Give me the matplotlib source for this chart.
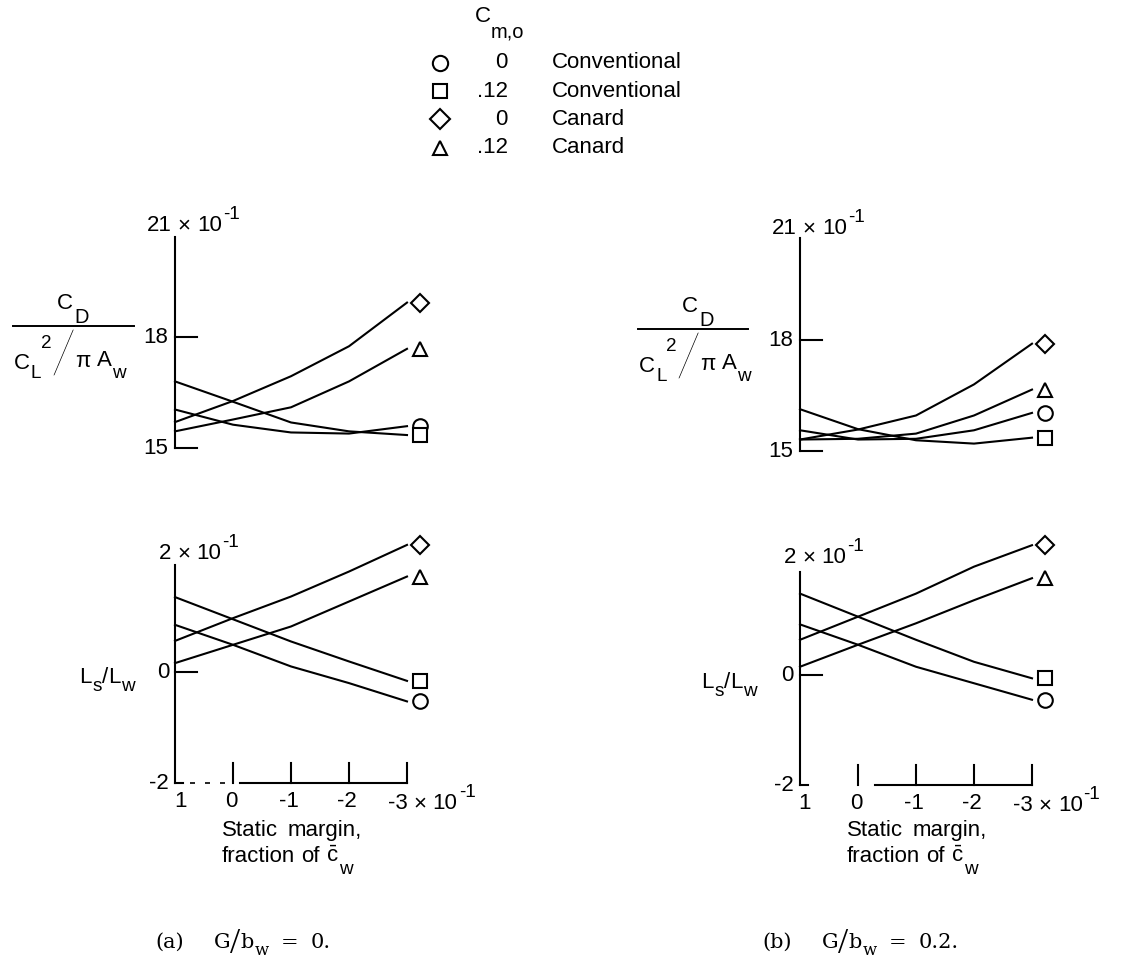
import matplotlib
matplotlib.use("Agg")
import matplotlib.pyplot as plt
from matplotlib import font_manager as fm

# ---------------------------------------------------------------- data
margin = [1, 0, -1, -2, -3]            # static margin, fraction of c_w (x 10^-1)
margin_tick_labels = ["1", "0", "-1", "-2", "-3"]

symbols = ["o", "s", "D", "^"]
cm0_labels = ["0", ".12", "0", ".12"]
config_labels = ["Conventional", "Conventional", "Canard", "Canard"]

# (a) G/b_w = 0 : drag ratio (x 10^-1), order: circle, square, diamond, triangle
drag_a_circle = [16.04, 15.63, 15.42, 15.39, 15.59]
drag_a_square = [16.80, 16.25, 15.69, 15.45, 15.35]
drag_a_diamond = [15.70, 16.27, 16.94, 17.75, 18.93]
drag_a_triangle = [15.45, 15.77, 16.10, 16.80, 17.68]

# (a) load ratio Ls/Lw (x 10^-1)
ls_a_circle = [0.85, 0.49, 0.10, -0.20, -0.53]
ls_a_square = [1.35, 0.95, 0.55, 0.19, -0.16]
ls_a_diamond = [0.56, 0.97, 1.36, 1.81, 2.29]
ls_a_triangle = [0.16, 0.49, 0.82, 1.27, 1.72]

# (b) G/b_w = 0.2
drag_b_circle = [15.56, 15.31, 15.33, 15.56, 16.03]
drag_b_square = [16.13, 15.59, 15.29, 15.20, 15.36]
drag_b_diamond = [15.31, 15.58, 15.96, 16.80, 17.90]
drag_b_triangle = [15.31, 15.33, 15.47, 15.96, 16.66]

ls_b_circle = [0.92, 0.55, 0.15, -0.15, -0.45]
ls_b_square = [1.48, 1.06, 0.64, 0.24, -0.06]
ls_b_diamond = [0.64, 1.06, 1.48, 1.97, 2.36]
ls_b_triangle = [0.15, 0.55, 0.94, 1.36, 1.76]

drag_ticks = [15, 18]
ls_ticks = [0, -2]

# ---------------------------------------------------------------- style
W, H, DPI = 1123, 972, 100
names = {f.name for f in fm.fontManager.ttflist}
SANS = next((n for n in ["DejaVu Sans Condensed", "Liberation Sans"] if n in names),
            "DejaVu Sans")
SERIF = "DejaVu Serif"
THIN_SERIF = "Liberation Serif" if "Liberation Serif" in names else SERIF
SLASH_FONT = "Lato" if "Lato" in names else SANS
FS = 16
plt.rcParams.update({
    "font.family": [SANS, "DejaVu Sans"],
    "font.size": FS,
    "mathtext.fontset": "custom",
    "mathtext.rm": SANS,
    "mathtext.it": SANS,
    "mathtext.bf": SANS,
    "mathtext.sf": SANS,
    "mathtext.fallback": "stixsans",
})

LW = 1.5
MARKER_SIZE = {"o": 10.5, "s": 10.0, "D": 9.3, "^": 9.5}
LABEL_X = -3.22          # where the end symbols sit, just past the last point
PPU_X = 58.0             # pixels per static-margin unit
XLIM = (1.0, -3.6)

fig = plt.figure(figsize=(W / DPI, H / DPI), dpi=DPI)
fig.patch.set_facecolor("white")
renderer = fig.canvas.get_renderer()


def make_axes(x1_px, ybase_px, ymin, ymax, ppu_y):
    left = x1_px / W
    width = (XLIM[0] - XLIM[1]) * PPU_X / W
    bottom = (H - ybase_px) / H
    height = (ymax - ymin) * ppu_y / H
    ax = fig.add_axes([left, bottom, width, height])
    ax.set_xlim(*XLIM)
    ax.set_ylim(ymin, ymax)
    ax.axis("off")
    return ax


# overlay axes in pixel units (y downwards) for all annotation text
ov = fig.add_axes([0, 0, 1, 1], zorder=5)
ov.set_xlim(0, W)
ov.set_ylim(H, 0)
ov.axis("off")
ov.patch.set_alpha(0)


def px(ax, x, y):
    """Data point of an axes -> overlay pixel coordinates."""
    dx, dy = ax.transData.transform((x, y))
    return dx, H - dy


def rich(x, y, parts, align="left", size=FS, **kw):
    """Left-to-right text pieces: (string, dy, scale, gap_before[, props])."""
    items = []
    for p in parts:
        s, dy, sc, gap = p[:4]
        props = dict(kw)
        if len(p) > 4:
            props.update(p[4])
        t = ov.text(0, 0, s, fontsize=size * sc, ha="left", va="baseline", **props)
        w = t.get_window_extent(renderer).width
        items.append((t, dy, gap, w))
    total = sum(g + w for _, _, g, w in items)
    cx = x - total / 2 if align == "center" else x
    for t, dy, gap, w in items:
        cx += gap
        t.set_position((cx, y + dy))
        cx += w


def times_ten(x, y, lead):
    rich(x, y, [(lead, 0, 1, 0), ("\u00d7", 0, 1, 6), ("10", 0, 1, 6),
                ("-1", -12, 0.85, 1)])


def draw_series(ax, series):
    for vals, sym in zip(series, symbols):
        ax.plot(margin, vals, color="k", lw=LW, clip_on=False)
        ax.plot([LABEL_X], [vals[-1]], marker=sym, ms=MARKER_SIZE[sym],
                mfc="white", mec="k", mew=1.5, ls="none", clip_on=False)


def drag_frame(ax, top):
    ax.plot([1, 1], [15, top], color="k", lw=LW, clip_on=False)
    for t in drag_ticks:
        ax.plot([1, 1 - 22 / PPU_X], [t, t], color="k", lw=LW, clip_on=False)
        x, y = px(ax, 1, t)
        ov.text(x - 7, y, str(t), ha="right", va="center")
    x, y = px(ax, 1, 21)
    times_ten(x - 28, y + 5, "21")


def ls_frame(ax, top, gap_start, ppu_y):
    ax.plot([1, 1], [-2, top], color="k", lw=LW, clip_on=False)
    ax.plot([1, 1 - 22 / PPU_X], [0, 0], color="k", lw=LW, clip_on=False)
    for t in ls_ticks:
        x, y = px(ax, 1, t)
        ov.text(x - 6, y, str(t), ha="right", va="center")
    x, y = px(ax, 1, 2)
    times_ten(x - 16, y - 2, "2")
    # baseline
    ax.plot([1, 1 - 8 / PPU_X], [-2, -2], color="k", lw=LW, clip_on=False)
    if gap_start is None:
        ax.plot([1, 0.0], [-2, -2], color="k", lw=1.2, ls=(0, (3, 6)),
                clip_on=False)
        ax.plot([-0.12, -3], [-2, -2], color="k", lw=LW, clip_on=False)
    else:
        ax.plot([gap_start, -3], [-2, -2], color="k", lw=LW, clip_on=False)
    tick_h = 20 / ppu_y
    for m in margin[1:]:
        ax.plot([m, m], [-2, -2 + tick_h], color="k", lw=LW, clip_on=False)
    for m, lab in zip(margin, margin_tick_labels):
        x, y = px(ax, m, -2)
        if m == 1:
            ov.text(x + 5, y + 18, lab, ha="center", va="center")
        elif m == -3:
            times_ten(x - 19, y + 26, lab)
        else:
            ov.text(x - 2, y + 18, lab, ha="center", va="center")


# ---------------------------------------------------------------- panels
ax_da = make_axes(175, 448, 15, 21, 37)
ax_la = make_axes(175, 783, -2, 2.4, 55.5)
ax_db = make_axes(800, 451, 15, 21, 37)
ax_lb = make_axes(800, 785, -2, 2.4, 55)

drag_frame(ax_da, 20.70)
drag_frame(ax_db, 20.76)
ls_frame(ax_la, 1.93, None, 55.5)
ls_frame(ax_lb, 1.88, -0.3, 55)

draw_series(ax_da, [drag_a_circle, drag_a_square, drag_a_diamond, drag_a_triangle])
draw_series(ax_la, [ls_a_circle, ls_a_square, ls_a_diamond, ls_a_triangle])
draw_series(ax_db, [drag_b_circle, drag_b_square, drag_b_diamond, drag_b_triangle])
draw_series(ax_lb, [ls_b_circle, ls_b_square, ls_b_diamond, ls_b_triangle])

# ---------------------------------------------------------------- axis titles
slash = {"family": SLASH_FONT, "fontweight": "light"}
for dx, dy, bar_len in [(0, 0, 121), (625, 3, 110)]:
    rich(73 + dx, 309 + dy, [("C", 0, 1, 0), ("D", 14, 0.9, 1)], align="center")
    ov.plot([13 + dx, 13 + dx + bar_len], [326 + dy, 326 + dy], color="k", lw=1.4)
    rich(14 + dx, 369 + dy, [("C", 0, 1, 0), ("L", 9, 0.85, 1), ("2", -21, 0.85, 0),
                             ("/", 4, 2.7, -2, slash), ("\u03c0", -2, 1, 0),
                             ("A", -3, 1, 6), ("w", 9, 0.85, 1)])

rich(79, 683, [("L", 0, 1, 0), ("s", 8, 0.85, 1), ("/", 0, 1, 0), ("L", 0, 1, 0),
               ("w", 8, 0.85, 1)])
rich(701, 688, [("L", 0, 1, 0), ("s", 8, 0.85, 1), ("/", 0, 1, 0), ("L", 0, 1, 0),
                ("w", 8, 0.85, 1)])

for x0 in (222, 847):
    rich(x0, 836, [("Static", 0, 1, 0), ("margin,", 0, 1, 9)])
    rich(x0, 862, [("fraction", 0, 1, 0), ("of", 0, 1, 6), (r"$\bar{c}$", 0, 1, 6),
                   ("w", 12, 0.85, 1)])

# ---------------------------------------------------------------- captions
cap = {"family": SERIF}
thin = {"family": THIN_SERIF}
for tag, x0, val in [("(a)", 155, "0."), ("(b)", 762, "0.2.")]:
    rich(x0, 948, [(tag, 0, 1, 0), ("G", 0, 1, 30),
                   ("/", 5, 1.75, 0, thin), ("b", 0, 1, 0), ("w", 7, 0.8, 1),
                   ("=", 0, 1, 12), (val, 0, 1, 12)], size=15, **cap)

# ---------------------------------------------------------------- legend
rich(475, 22, [("C", 0, 1, 0), ("m,o", 16, 0.9, 0)])
for i, (sym, cm0, cfg) in enumerate(zip(symbols, cm0_labels, config_labels)):
    y = 63 + 28.2 * i
    ov.plot([440], [y], marker=sym, ms=MARKER_SIZE[sym] + 0.5, mfc="white",
            mec="k", mew=1.5, ls="none")
    ov.text(508, y, cm0, ha="right", va="center")
    ov.text(552, y, cfg, ha="left", va="center")

fig.savefig("out.png", dpi=DPI, facecolor="white")
